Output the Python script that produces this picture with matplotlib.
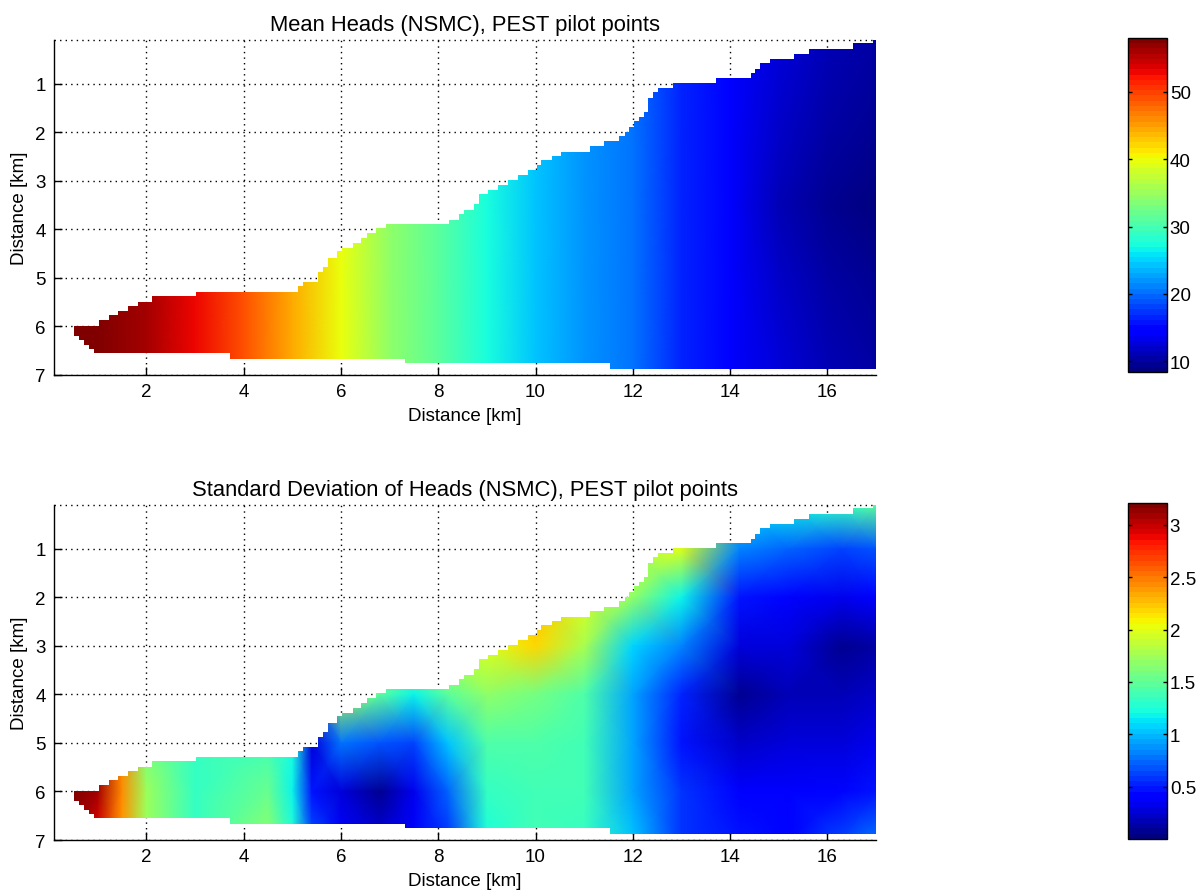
import numpy as np
import matplotlib
matplotlib.use("Agg")
import matplotlib.pyplot as plt
from matplotlib.path import Path

plt.rcParams["font.family"] = ["Liberation Sans", "DejaVu Sans"]

# model domain: top edge as steps (left x of step, y of top), bottom edge likewise
top_x = [0.52, 1.02, 1.23, 1.41, 1.62, 1.82, 2.12, 3.02, 5.12, 5.22, 5.52, 5.63,
         5.73, 5.92, 6.03, 6.24, 6.42, 6.53, 6.73, 6.93, 8.22, 8.42, 8.52, 8.73,
         8.83, 9.02, 9.22, 9.43, 9.63, 9.84, 10.02, 10.12, 10.33, 10.53, 11.11,
         11.41, 11.72, 11.83, 11.93, 12.03, 12.12, 12.22, 12.31, 12.42, 12.52,
         12.82, 13.71, 14.42, 14.52, 14.62, 14.83, 15.32, 15.62, 16.52, 16.93]
top_y = [6.00, 5.86, 5.77, 5.68, 5.57, 5.49, 5.37, 5.29, 5.16, 5.08, 4.88, 4.78,
         4.59, 4.45, 4.38, 4.29, 4.18, 4.08, 3.98, 3.88, 3.80, 3.69, 3.60, 3.47,
         3.27, 3.18, 3.09, 2.99, 2.88, 2.77, 2.68, 2.58, 2.49, 2.40, 2.28,
         2.19, 2.08, 1.99, 1.90, 1.77, 1.69, 1.58, 1.29, 1.18, 1.09,
         0.99, 0.88, 0.79, 0.69, 0.58, 0.49, 0.38, 0.29, 0.17, 0.10]
bot_x = [0.52, 0.62, 0.72, 0.82, 0.92, 3.71, 7.31, 11.53]
bot_y = [6.19, 6.28, 6.38, 6.47, 6.55, 6.67, 6.76, 6.88]
x_right = 17.0

# mean heads read at nodes (rows = depth, cols = distance)
mean_x = [0.5, 1, 2, 3, 4, 5, 6, 7, 8, 9, 10, 11, 12, 13, 14, 15, 16, 17]
mean_y = [0.1, 2.0, 3.5, 5.0, 7.0]
mean_vals = [
    [58, 57.3, 55.7, 53.3, 49.3, 44.4, 40.1, 34.7, 30.9, 27, 24.3, 22.2, 20.1, 16.9, 14.6, 13.0, 11.5, 10.5],
    [58, 57.3, 55.7, 53.3, 49.3, 44.4, 40.1, 34.7, 30.9, 27, 24.3, 22.2, 20.1, 16.9, 14.3, 12.0, 10.5, 9.8],
    [58, 57.3, 55.7, 53.3, 49.3, 44.4, 40.1, 34.7, 30.9, 27, 24.3, 22.2, 20.1, 16.9, 14.0, 11.5, 9.2, 8.6],
    [58, 57.3, 55.7, 53.3, 49.3, 44.4, 40.1, 34.7, 30.9, 27, 24.3, 22.2, 20.1, 16.9, 14.2, 12.2, 10.2, 9.5],
    [58, 57.3, 55.7, 53.3, 49.3, 44.4, 40.1, 34.7, 30.9, 27, 24.3, 22.2, 20.1, 16.9, 14.6, 12.7, 11.0, 10.5],
]
mean_lim = (8.4, 58.0)
mean_ticks = [10, 20, 30, 40, 50]

# standard deviation of heads read at nodes
std_x = [0.5, 1.0, 1.5, 2.0, 3.0, 4.5, 5.0, 5.4, 6.0, 6.8, 7.5, 8.2, 9.0, 10.0,
         11.0, 12.0, 13.0, 14.2, 15.2, 16.3, 17.0]
std_y = [0.1, 1.0, 2.0, 3.0, 4.0, 5.0, 6.0, 7.0]
std_vals = [
    [1.4, 1.4, 1.4, 1.4, 1.4, 1.4, 1.3, 1.0, 1.5, 1.6, 1.8, 2.0, 2.0, 2.1, 2.0, 2.0, 1.9, 1.1, 1.2, 1.35, 1.5],
    [1.4, 1.4, 1.4, 1.4, 1.4, 1.4, 1.3, 1.0, 1.5, 1.6, 1.8, 2.0, 2.0, 2.1, 2.0, 1.9, 2.0, 0.85, 0.75, 0.65, 0.7],
    [1.4, 1.4, 1.4, 1.4, 1.4, 1.4, 1.3, 1.0, 1.6, 1.6, 1.8, 2.0, 2.0, 2.3, 2.0, 1.7, 1.2, 0.5, 0.45, 0.35, 0.4],
    [1.4, 1.4, 1.4, 1.4, 1.4, 1.4, 1.3, 1.0, 1.7, 1.6, 1.8, 2.0, 2.0, 2.2, 1.8, 1.1, 0.85, 0.3, 0.28, 0.08, 0.15],
    [1.4, 1.4, 1.4, 1.4, 1.4, 1.4, 1.3, 0.6, 1.8, 1.5, 1.2, 1.5, 1.7, 1.6, 1.45, 0.95, 0.55, 0.08, 0.2, 0.2, 0.25],
    [3.2, 3.1, 2.45, 1.6, 1.35, 1.4, 1.25, 0.3, 0.8, 0.7, 0.65, 1.05, 1.45, 1.45, 1.4, 0.95, 0.5, 0.25, 0.28, 0.3, 0.35],
    [3.2, 3.1, 2.45, 1.75, 1.35, 1.55, 1.2, 0.5, 0.3, 0.08, 0.35, 0.75, 1.35, 1.4, 1.4, 0.95, 0.6, 0.4, 0.38, 0.42, 0.5],
    [3.2, 2.9, 2.4, 1.75, 1.35, 1.7, 1.3, 0.7, 0.45, 0.3, 0.4, 0.6, 1.25, 1.4, 1.35, 1.05, 0.6, 0.48, 0.45, 0.65, 0.8],
]
std_lim = (0.0, 3.21)
std_ticks = [0.5, 1, 1.5, 2, 2.5, 3]
std_ticklabels = ["0.5", "1", "1.5", "2", "2.5", "3"]

titles = ["Mean Heads (NSMC), PEST pilot points",
          "Standard Deviation of Heads (NSMC), PEST pilot points"]


def domain_path():
    verts = []
    xs = top_x + [x_right]
    for i in range(len(top_y)):
        verts.append((xs[i], top_y[i]))
        verts.append((xs[i + 1], top_y[i]))
    xb = bot_x + [x_right]
    for i in reversed(range(len(bot_y))):
        verts.append((xb[i + 1], bot_y[i]))
        verts.append((xb[i], bot_y[i]))
    verts.append(verts[0])
    return Path(verts, closed=True)


cmap = plt.get_cmap("jet", 64)
fig = plt.figure(figsize=(12.03, 8.95), dpi=100)

panels = [
    (mean_x, mean_y, mean_vals, mean_lim, mean_ticks, None,
     [0.0449, 0.5799, 0.6833, 0.3743], [0.9377, 0.5832, 0.0324, 0.3732]),
    (std_x, std_y, std_vals, std_lim, std_ticks, std_ticklabels,
     [0.0449, 0.0603, 0.6833, 0.3743], [0.9377, 0.0615, 0.0324, 0.3754]),
]

for k, (gx, gy, vals, lim, cticks, clabels, pos, cpos) in enumerate(panels):
    ax = fig.add_axes(pos)
    X, Y = np.meshgrid(gx, gy)
    mesh = ax.pcolormesh(X, Y, np.array(vals), shading="gouraud", cmap=cmap,
                         vmin=lim[0], vmax=lim[1], zorder=2)
    mesh.set_clip_path(domain_path(), ax.transData)

    ax.set_xlim(0.1, 17.0)
    ax.set_ylim(7.0, 0.1)
    ax.set_xticks([2, 4, 6, 8, 10, 12, 14, 16])
    ax.set_yticks([1, 2, 3, 4, 5, 6, 7])
    ax.set_axisbelow(True)
    ax.grid(True, color="k", linestyle=(0, (1, 3)), linewidth=1.0)
    ax.axhline(0.1, color="k", linestyle=(0, (1, 3)), linewidth=1.0, zorder=1, clip_on=False)
    for s in ["top", "right"]:
        ax.spines[s].set_visible(False)
    for s in ["left", "bottom"]:
        ax.spines[s].set_linewidth(1.0)
        ax.spines[s].set_zorder(3)
    ax.tick_params(direction="in", length=5.5, width=1, labelsize=13.5, pad=6)
    ax.set_xlabel("Distance [km]", fontsize=13.5, labelpad=5)
    ax.set_ylabel("Distance [km]", fontsize=13.5, labelpad=5)
    ax.set_title(titles[k], fontsize=15.8, pad=7)

    cax = fig.add_axes(cpos)
    cb = fig.colorbar(mesh, cax=cax)
    cb.set_ticks(cticks)
    if clabels is not None:
        cb.set_ticklabels(clabels)
    cb.outline.set_linewidth(1.0)
    cax.tick_params(direction="in", length=3, width=1, labelsize=13.5, pad=2,
                    left=True, right=True)

fig.savefig("out.png", dpi=100)
